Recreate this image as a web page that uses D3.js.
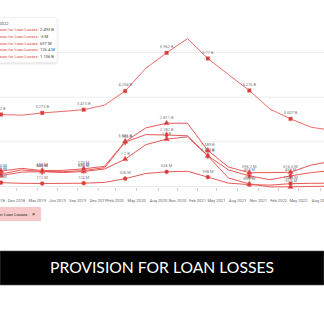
<!DOCTYPE html>
<html>
<head>
<meta charset="utf-8">
<script src="https://cdn.jsdelivr.net/npm/d3@7"></script>
<style>
html, body { margin: 0; padding: 0; background: #fff; overflow: hidden; }
svg { display: block; font-family: Roboto, "Liberation Sans", sans-serif; }
</style>
</head>
<body>
<div id="chart"></div>
<script>
// Provision for loan losses - quarterly, values in millions

var dates = ["2018-09-30", "2018-12-31", "2019-03-31", "2019-06-30", "2019-09-30",
    "2019-12-31", "2020-03-31", "2020-06-30", "2020-09-30", "2020-12-31",
    "2021-03-31", "2021-06-30", "2021-09-30", "2021-12-31", "2022-03-31",
    "2022-06-30", "2022-09-30"];

var seriesA = [3200, 3170, 3273, 3340, 3415, 3620, 4254, 5270, 5962, 6600, 5710, 4990, 4276, 3440, 3007, 2630, 2493];
var seriesB = [470, 620, 643, 600, 650, 760, 1200, 1850, 2100, 2200, 1342, 360, 93, -40, -35.6, -20, -5];
var seriesC = [540, 720, 650, 640, 690, 820, 1966, 2300, 2282, 2250, 1352, 720, 454, 280, 452, 600, 697];
var seriesD = [150, 120, 112, 118, 124, 160, 326, 560, 636, 660, 398, 130, 60.2, 40, 104.4, 120, 126.4];
var seriesE = [670, 790, 693, 700, 770, 880, 1986, 2600, 2811, 2810, 1589, 850, 596.2, 600, 616.5, 940, 1106];

var seriesList = [seriesA, seriesB, seriesC, seriesD, seriesE];
var seriesLabel = "Provision for Loan Losses";

// x tick labels as they sit on the axis
var tickDates = ["2018-09-07", "2018-12-05", "2019-03-07", "2019-06-04", "2019-09-01",
    "2019-12-01", "2020-02-15", "2020-05-18", "2020-08-23", "2020-11-15",
    "2021-02-11", "2021-05-06", "2021-08-07", "2021-11-07", "2022-02-04",
    "2022-05-03", "2022-08-08"];
var yTicks = [0, 2000, 4000, 6000];

var tooltipTitle = "Sep 30, 2022";

var width = 324;
var height = 323;

var parseDate = d3.timeParse("%Y-%m-%d");

var svg = d3
    .select("#chart")
    .append("svg")
    .attr("width", width)
    .attr("height", height);

var defs = svg.append("defs");
var shadow = defs.append("filter").attr("id", "shadow")
    .attr("x", "-20%").attr("y", "-20%").attr("width", "140%").attr("height", "140%");
shadow.append("feDropShadow")
    .attr("dx", 0).attr("dy", 1).attr("stdDeviation", 1.2)
    .attr("flood-color", "#000").attr("flood-opacity", 0.15);

var x = d3.scaleTime()
    .domain([parseDate(dates[0]), parseDate(dates[dates.length - 1])])
    .range([1, 332]);

var y = d3.scaleLinear()
    .domain([0, 6000])
    .range([186, 52]);

function fmt(v) {
    var f = d3.formatLocale({decimal: ".", thousands: ",", grouping: [3], currency: ["", ""], minus: "-"});
    if (Math.abs(v) >= 1000) return f.format(".3~f")(v / 1000) + " B";
    return f.format(".1~f")(v) + " M";
}

// gridlines
var grid = svg.append("g")
    .attr("class", "grid")
    .call(d3.axisLeft(y).tickValues(yTicks).tickSize(-width).tickFormat(""));
grid.select(".domain").remove();
grid.selectAll("line").attr("stroke", "#ececec");

// x axis
var xAxis = svg.append("g")
    .attr("transform", "translate(0,188)")
    .call(d3.axisBottom(x)
        .tickValues(tickDates.map(parseDate))
        .tickFormat(d3.timeFormat("%b %Y"))
        .tickSize(3)
        .tickPadding(8));
xAxis.select(".domain").remove();
xAxis.selectAll("line").attr("stroke", "#d0d0d0");
xAxis.selectAll("text")
    .attr("fill", "#666")
    .style("font-size", "4.1px")
    .style("font-family", "Roboto, 'Liberation Sans', sans-serif");

// lines
var line = d3.line()
    .x(function(d, i) { return x(parseDate(dates[i])); })
    .y(function(d) { return y(d); });

var shapes = [d3.symbolSquare, d3.symbolTriangle, d3.symbolDiamond, d3.symbolCircle, d3.symbolTriangle];

seriesList.forEach(function(s, k) {
    svg.append("path")
        .datum(s)
        .attr("fill", "none")
        .attr("stroke", k === 0 ? "#ec6b6b" : "#e85858")
        .attr("stroke-width", 1)
        .attr("d", line);
});

seriesList.forEach(function(s, k) {
    var pts = s.map(function(v, i) { return {v: v, i: i}; })
        .filter(function(d) { return d.i % 2 === 0; });

    svg.append("g").selectAll("path")
        .data(pts)
        .enter()
        .append("path")
        .attr("transform", function(d) {
            return "translate(" + x(parseDate(dates[d.i])) + "," + y(d.v) + ")";
        })
        .attr("d", d3.symbol().type(shapes[k]).size(14))
        .attr("fill", "#d93a3a")
        .attr("stroke", "#f08a8a")
        .attr("stroke-width", 0.4);

    svg.append("g").selectAll("text")
        .data(pts)
        .enter()
        .append("text")
        .attr("x", function(d) { return x(parseDate(dates[d.i])); })
        .attr("y", function(d) { return y(d.v) - 4.5; })
        .attr("text-anchor", "middle")
        .attr("fill", "#777")
        .style("font-size", "4px")
        .text(function(d) { return fmt(d.v); });
});

// tooltip
var tip = svg.append("g");
tip.append("rect")
    .attr("x", -4).attr("y", 17.5)
    .attr("width", 61).attr("height", 45)
    .attr("rx", 1.5)
    .attr("fill", "#fff")
    .attr("stroke", "#e4e4e4")
    .attr("stroke-width", 0.5)
    .attr("filter", "url(#shadow)");
tip.append("text")
    .attr("x", 8.5).attr("y", 24.8)
    .attr("text-anchor", "end")
    .attr("fill", "#444")
    .style("font-size", "4.1px")
    .text(tooltipTitle);
seriesList.forEach(function(s, k) {
    var ty = 31.4 + k * 6.67;
    tip.append("text")
        .attr("x", 38.6).attr("y", ty)
        .attr("text-anchor", "end")
        .attr("fill", "#e04848")
        .style("font-size", "4.1px")
        .text(seriesLabel + ":");
    tip.append("text")
        .attr("x", 40).attr("y", ty)
        .attr("fill", "#444")
        .style("font-size", "4.1px")
        .text(fmt(s[s.length - 1]));
});

// legend chip
var chip = svg.append("g");
chip.append("rect")
    .attr("x", -3).attr("y", 207)
    .attr("width", 44).attr("height", 14)
    .attr("rx", 1)
    .attr("fill", "#f6c8c8");
chip.append("text")
    .attr("x", 27.5).attr("y", 215.5)
    .attr("text-anchor", "end")
    .attr("fill", "#333")
    .style("font-size", "4.2px")
    .text(seriesLabel);
chip.append("text")
    .attr("x", 33.5).attr("y", 216)
    .attr("text-anchor", "middle")
    .attr("fill", "#333")
    .style("font-size", "6px")
    .text("×");

// caption band
svg.append("rect")
    .attr("x", 0).attr("y", 251)
    .attr("width", width).attr("height", 34)
    .attr("fill", "#000")
    .attr("stroke", "#555")
    .attr("stroke-width", 0.6);
svg.append("text")
    .attr("x", 162).attr("y", 273.3)
    .attr("text-anchor", "middle")
    .attr("fill", "#fff")
    .attr("textLength", 224)
    .attr("lengthAdjust", "spacingAndGlyphs")
    .style("font-family", "Lato, 'Open Sans', sans-serif")
    .style("font-size", "16px")
    .text("PROVISION FOR LOAN LOSSES");
</script>
</body>
</html>
